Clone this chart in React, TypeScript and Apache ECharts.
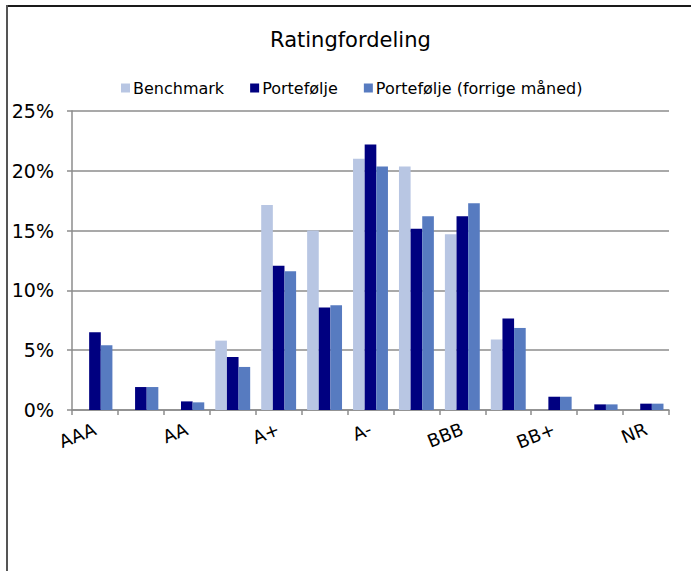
import React, { useEffect, useRef } from "react";
import * as echarts from "echarts";

const categories = ["AAA", "AA+", "AA", "AA-", "A+", "A", "A-", "BBB+", "BBB", "BBB-", "BB+", "BB", "NR"];
const benchmark = [0, 0, 0, 5.8, 17.15, 15.0, 21.0, 20.35, 14.7, 5.9, 0, 0, 0];
const portefolje = [6.5, 1.92, 0.72, 4.43, 12.07, 8.58, 22.2, 15.16, 16.2, 7.66, 1.11, 0.47, 0.53];
const forrige = [5.41, 1.92, 0.64, 3.6, 11.6, 8.75, 20.35, 16.2, 17.28, 6.86, 1.11, 0.47, 0.53];
const seriesNames = ["Benchmark", "Portefølje", "Portefølje (forrige måned)"];
const colors = ["#B8C6E3", "#000080", "#577BC0"];

const FONT = "'DejaVu Sans', Verdana, sans-serif";

export default function App() {
  const ref = useRef<HTMLDivElement>(null);
  useEffect(() => {
    if (!ref.current) return;
    const chart = echarts.init(ref.current, null, { renderer: "svg" });
    const data = [benchmark, portefolje, forrige];
    chart.setOption({
      animation: false,
      backgroundColor: "#ffffff",
      title: {
        text: "Ratingfordeling",
        left: 270,
        top: 29,
        padding: 0,
        textStyle: { fontFamily: FONT, fontSize: 21, fontWeight: "normal", color: "#000" },
      },
      legend: {
        left: 121,
        top: 80,
        padding: 0,
        itemWidth: 9,
        itemHeight: 9,
        itemGap: 26,
        icon: "rect",
        textStyle: { fontFamily: FONT, fontSize: 16, color: "#000", padding: [0, 0, 0, -2] },
        data: seriesNames,
      },
      grid: { left: 72, right: 22, top: 111, bottom: 161, containLabel: false },
      xAxis: {
        type: "category",
        data: categories,
        boundaryGap: true,
        axisLine: { lineStyle: { color: "#8c8c8c", width: 1.5 } },
        axisTick: { show: true, interval: 0, length: 5, lineStyle: { color: "#8c8c8c", width: 1.5 } },
        axisLabel: {
          interval: 1,
          rotate: 22,
          margin: 18,
          fontFamily: FONT,
          fontSize: 18,
          color: "#000",
        },
      },
      yAxis: {
        type: "value",
        min: 0,
        max: 25,
        interval: 5,
        axisLine: { show: true, lineStyle: { color: "#8c8c8c", width: 1.5 } },
        axisTick: { show: true, length: 5, lineStyle: { color: "#8c8c8c", width: 1.5 } },
        splitLine: { lineStyle: { color: "#8c8c8c", width: 1.5 } },
        axisLabel: {
          formatter: (v: number) => `${v}%`,
          margin: 18,
          fontFamily: FONT,
          fontSize: 19,
          color: "#000",
        },
      },
      series: data.map((d, i) => ({
        name: seriesNames[i],
        type: "bar",
        data: d,
        barGap: "0%",
        barCategoryGap: "24%",
        itemStyle: { color: colors[i] },
      })),
      graphic: [
        { type: "line", shape: { x1: 6, y1: 6, x2: 700, y2: 6 }, style: { stroke: "#1a1a1a", lineWidth: 2 } },
        { type: "line", shape: { x1: 7, y1: 5, x2: 7, y2: 580 }, style: { stroke: "#555", lineWidth: 2 } },
      ],
    });
    return () => chart.dispose();
  }, []);
  return (
    <div
      ref={ref}
      style={{ position: "fixed", left: 0, top: 0, width: 691, height: 571 }}
    />
  );
}
